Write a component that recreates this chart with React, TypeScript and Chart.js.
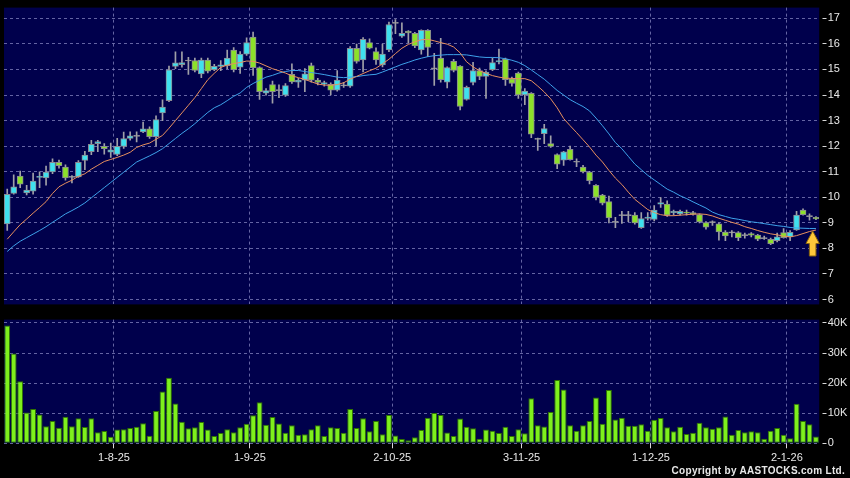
import React, { useEffect, useRef } from "react";
import { Chart, registerables } from "chart.js";

Chart.register(...registerables);
Chart.defaults.font.family = "'Liberation Sans', Arial, sans-serif";

// ---------- DATA ----------
const dates = [
  "9-7-25","10-7-25","11-7-25","14-7-25","15-7-25","16-7-25","17-7-25","18-7-25","21-7-25","22-7-25","23-7-25","24-7-25","25-7-25","28-7-25","29-7-25","30-7-25","31-7-25",
  "1-8-25","4-8-25","5-8-25","6-8-25","7-8-25","8-8-25","11-8-25","12-8-25","13-8-25","14-8-25","15-8-25","18-8-25","19-8-25","20-8-25","21-8-25","22-8-25","25-8-25","26-8-25","27-8-25","28-8-25","29-8-25",
  "1-9-25","2-9-25","3-9-25","4-9-25","5-9-25","8-9-25","9-9-25","10-9-25","11-9-25","12-9-25","15-9-25","16-9-25","17-9-25","18-9-25","19-9-25","22-9-25","23-9-25","24-9-25","25-9-25","26-9-25","29-9-25","30-9-25",
  "2-10-25","3-10-25","6-10-25","8-10-25","9-10-25","10-10-25","13-10-25","14-10-25","15-10-25","16-10-25","17-10-25","20-10-25","21-10-25","22-10-25","23-10-25","24-10-25","27-10-25","28-10-25","30-10-25","31-10-25",
  "3-11-25","4-11-25","5-11-25","6-11-25","7-11-25","10-11-25","11-11-25","12-11-25","13-11-25","14-11-25","17-11-25","18-11-25","19-11-25","20-11-25","21-11-25","24-11-25","25-11-25","26-11-25","27-11-25","28-11-25",
  "1-12-25","2-12-25","3-12-25","4-12-25","5-12-25","8-12-25","9-12-25","10-12-25","11-12-25","12-12-25","15-12-25","16-12-25","17-12-25","18-12-25","19-12-25","22-12-25","23-12-25","24-12-25","29-12-25","30-12-25","31-12-25",
  "2-1-26","5-1-26","6-1-26","7-1-26","8-1-26",
];

const monthTicks = ["1-8-25", "1-9-25", "2-10-25", "3-11-25", "1-12-25", "2-1-26"];

const openP = [
  8.96,10.15,10.83,10.17,10.24,10.78,10.76,10.99,11.37,11.18,10.80,10.80,11.44,11.78,12.10,11.99,11.76,11.68,11.99,12.30,
  12.40,12.56,12.68,12.37,13.30,13.78,15.12,15.19,15.35,15.35,14.83,15.37,14.99,15.12,15.15,15.76,15.09,15.60,16.27,15.07,
  14.07,14.41,14.20,13.99,14.81,14.50,14.58,15.15,14.58,14.42,14.42,14.19,14.38,14.35,15.83,15.37,16.05,15.70,15.18,15.76,
  16.82,16.30,16.50,16.41,15.76,16.53,15.03,15.45,14.50,15.32,15.13,13.83,14.49,14.96,14.73,14.99,15.30,15.41,14.63,14.86,
  14.00,14.07,12.30,12.49,12.10,11.67,11.45,11.88,11.40,11.18,10.99,10.47,10.09,9.83,9.04,9.29,9.30,9.30,8.81,9.17,
  9.13,9.73,9.73,9.40,9.35,9.42,9.40,9.32,9.01,9.02,8.96,8.64,8.62,8.62,8.52,8.58,8.52,8.40,8.36,8.30,
  8.62,8.45,8.72,9.50,9.26,9.22,
];
const highP = [
  10.32,10.88,11.03,10.47,10.95,11.00,11.22,11.50,11.46,11.27,10.85,11.44,11.80,12.23,12.23,12.10,12.12,12.31,12.55,12.56,
  12.56,12.94,12.76,13.19,13.81,15.13,15.69,15.69,15.47,15.45,15.45,15.45,15.20,15.35,15.76,15.86,15.70,16.24,16.46,15.10,
  14.25,14.55,14.40,14.45,15.22,14.65,15.03,15.25,14.65,14.55,14.48,14.96,14.50,15.90,15.99,16.25,16.20,15.85,15.99,16.85,
  16.95,16.82,16.52,16.45,16.55,16.56,15.63,16.22,15.10,15.40,15.15,14.35,15.28,15.05,14.95,15.45,15.80,15.45,14.70,14.90,
  14.25,14.10,12.32,12.85,12.40,11.70,11.80,12.00,11.50,11.25,11.02,10.50,10.12,10.05,9.22,9.45,9.45,9.40,9.40,9.40,
  9.68,9.99,9.86,9.50,9.50,9.50,9.45,9.35,9.05,9.08,9.00,8.70,8.70,8.66,8.60,8.62,8.55,8.48,8.40,8.60,
  8.78,8.70,9.45,9.55,9.35,9.25,
];
const lowP = [
  8.70,10.12,10.38,10.09,10.12,10.38,10.47,10.92,11.14,10.67,10.56,10.78,11.08,11.67,11.78,11.69,11.56,11.63,11.91,12.23,
  12.17,12.53,12.30,12.01,13.00,13.74,15.03,15.09,14.81,14.90,14.68,14.86,14.95,14.95,15.03,14.90,14.85,15.55,14.77,13.83,
  13.99,13.68,13.90,13.95,14.45,14.30,14.13,14.50,14.40,14.35,14.00,14.15,14.30,14.30,15.25,14.90,15.80,15.20,15.10,15.70,
  16.40,16.25,16.05,15.85,15.60,15.50,14.38,14.50,14.28,14.90,13.42,13.80,14.40,14.60,13.87,14.95,15.22,14.38,14.35,13.87,
  13.62,12.33,11.83,12.10,11.95,11.12,11.25,11.45,11.20,10.95,10.52,9.90,9.70,9.00,8.81,8.98,9.05,8.95,8.78,9.10,
  9.08,9.60,9.25,9.30,9.30,9.30,9.30,9.00,8.75,8.90,8.32,8.30,8.45,8.30,8.40,8.45,8.30,8.35,8.15,8.25,
  8.40,8.30,8.70,9.30,9.10,9.12,
];
const closeP = [
  10.12,10.41,10.51,10.28,10.63,10.82,10.99,11.37,11.24,10.76,10.80,11.37,11.65,12.07,12.18,11.90,11.86,11.99,12.30,12.40,
  12.40,12.68,12.37,13.04,13.53,14.99,15.26,15.27,15.35,14.96,15.37,14.93,15.12,15.18,15.45,14.99,15.60,16.05,15.07,14.13,
  14.17,14.13,14.19,14.37,14.51,14.58,14.83,14.58,14.49,14.49,14.19,14.58,14.38,15.83,15.31,16.18,15.83,15.37,15.60,16.76,
  16.82,16.41,16.43,15.92,16.53,15.86,15.05,14.60,15.07,14.96,13.55,14.30,14.96,14.73,14.90,15.27,15.35,14.60,14.45,14.00,
  14.15,12.47,12.27,12.69,11.99,11.30,11.78,11.47,11.38,10.99,10.65,9.99,9.77,9.19,9.04,9.31,9.31,9.00,9.17,9.23,
  9.50,9.79,9.30,9.45,9.45,9.38,9.33,9.04,8.83,9.04,8.65,8.49,8.64,8.42,8.52,8.52,8.36,8.40,8.19,8.45,
  8.42,8.63,9.30,9.32,9.26,9.15,
];

const ma10 = [
  8.36,8.65,8.93,9.15,9.38,9.60,9.83,10.15,10.41,10.55,10.67,10.82,10.92,11.10,11.25,11.40,11.48,11.56,11.65,11.76,
  11.95,12.05,12.12,12.27,12.42,12.70,13.00,13.30,13.60,13.90,14.25,14.60,14.85,15.08,15.17,15.23,15.27,15.33,15.32,15.25,
  15.14,15.03,14.95,14.86,14.75,14.68,14.61,14.52,14.43,14.39,14.38,14.41,14.48,14.62,14.73,14.84,14.95,15.05,15.22,15.40,
  15.62,15.83,15.98,16.08,16.16,16.18,16.12,16.05,15.99,15.88,15.65,15.30,15.10,14.95,14.85,14.76,14.70,14.66,14.65,14.64,
  14.64,14.56,14.35,14.12,13.85,13.50,13.08,12.80,12.53,12.25,11.97,11.65,11.38,11.05,10.75,10.50,10.20,9.92,9.72,9.52,
  9.40,9.32,9.28,9.28,9.30,9.32,9.34,9.35,9.33,9.27,9.18,9.10,9.02,8.95,8.85,8.78,8.70,8.63,8.57,8.53,
  8.48,8.45,8.50,8.58,8.66,8.72,
];
const ma20 = [
  7.88,8.10,8.28,8.42,8.56,8.70,8.85,9.02,9.18,9.35,9.48,9.62,9.78,9.98,10.18,10.38,10.58,10.78,10.98,11.18,
  11.38,11.50,11.62,11.75,11.90,12.10,12.30,12.50,12.68,12.88,13.10,13.32,13.50,13.62,13.78,13.95,14.08,14.30,14.45,14.58,
  14.70,14.77,14.86,14.92,14.96,14.96,14.92,14.88,14.84,14.80,14.75,14.70,14.68,14.70,14.72,14.76,14.79,14.81,14.90,15.00,
  15.10,15.20,15.28,15.37,15.44,15.50,15.54,15.56,15.58,15.58,15.58,15.57,15.53,15.49,15.47,15.47,15.46,15.42,15.36,15.28,
  15.15,14.98,14.80,14.62,14.40,14.18,14.00,13.82,13.68,13.55,13.38,13.10,12.80,12.48,12.14,11.90,11.60,11.30,11.08,10.86,
  10.68,10.50,10.32,10.20,10.06,9.95,9.82,9.70,9.58,9.42,9.32,9.25,9.18,9.14,9.09,9.04,9.01,8.97,8.93,8.89,
  8.86,8.82,8.80,8.79,8.78,8.78,
];

// volume in thousands of shares
const volumeK = [
  39.1,29.8,20.6,10.2,11.4,9.6,5.7,7.4,5.2,8.8,5.7,8.3,5.4,8.3,3.7,4.1,2.2,4.6,4.7,5.1,
  5.5,6.7,2.5,10.7,17.2,21.8,13.2,7.2,5.0,5.3,7.1,4.6,2.4,3.4,4.7,3.7,5.3,6.5,9.3,13.6,
  6.2,8.7,6.6,3.5,6.0,2.8,3.0,4.7,6.0,2.4,5.3,5.1,3.5,11.4,5.1,8.3,4.0,7.4,3.0,9.4,
  2.6,1.4,1.0,2.0,4.4,8.5,10.1,9.4,3.6,2.4,8.2,5.5,5.0,1.5,4.6,4.2,3.4,5.5,2.4,4.7,
  3.3,15.0,6.0,5.6,10.4,21.0,17.9,6.0,4.2,6.0,7.4,15.2,6.5,17.7,7.9,8.5,5.8,5.8,6.3,4.2,
  7.8,8.4,5.3,4.0,5.5,3.1,3.5,6.8,5.3,4.8,5.3,8.9,2.8,4.4,3.7,4.0,3.7,1.5,4.2,5.1,
  2.8,1.7,13.1,7.4,6.3,2.3,
];

const priceTicks = [6, 7, 8, 9, 10, 11, 12, 13, 14, 15, 16, 17];
const volumeTicks = [0, 10, 20, 30, 40];

// ---------- STYLE ----------
const NAVY = "#00004c";
const GRID = "rgba(125,125,185,0.8)";
const LABEL = "#e8e8e8";
const UP = "#3fe0ee";
const DOWN = "#8ce12a";
const DOJI = "#a8a8a8";
const EDGE = "#8a8a92";
const Y_AXIS_W = 30.8;
const FONT = { family: "'Liberation Sans', Arial, sans-serif", size: 11 };

const isMonth = (i: any) => typeof i === "number" && monthTicks.includes(dates[i]);

const bodies = openP.map((o, i) => {
  const c = closeP[i];
  const lo = Math.min(o, c);
  const hi = Math.max(o, c);
  if (hi - lo < 0.04) {
    const m = (hi + lo) / 2;
    return [m - 0.02, m + 0.02];
  }
  return [lo, hi];
});
const bodyColors = openP.map((o, i) => {
  const c = closeP[i];
  if (Math.abs(c - o) < 0.035) return DOJI;
  return c > o ? UP : DOWN;
});
const wicks = lowP.map((l, i) => [l, highP[i]]);

const bgPlugin = {
  id: "navyBg",
  beforeDatasetsDraw(chart: any) {},
  beforeDraw(chart: any) {
    const { ctx, chartArea: a } = chart;
    ctx.save();
    ctx.fillStyle = "#000";
    ctx.fillRect(0, 0, chart.width, chart.height);
    ctx.fillStyle = NAVY;
    ctx.fillRect(a.left, a.top, a.right - a.left, a.bottom - a.top);
    ctx.restore();
  },
};

const arrowPlugin = {
  id: "lastArrow",
  afterDatasetsDraw(chart: any) {
    const { ctx } = chart;
    const xs = chart.scales.x;
    const ys = chart.scales.y;
    const last = dates.length - 1;
    const cx = xs.getPixelForValue(last) - 3.3;
    const tip = ys.getPixelForValue(ma10[last]) + 1;
    const headH = 12.5, headW = 6.7, shaftW = 3.3, total = 25;
    ctx.save();
    ctx.beginPath();
    ctx.moveTo(cx, tip);
    ctx.lineTo(cx + headW, tip + headH);
    ctx.lineTo(cx + shaftW, tip + headH);
    ctx.lineTo(cx + shaftW, tip + total);
    ctx.lineTo(cx - shaftW, tip + total);
    ctx.lineTo(cx - shaftW, tip + headH);
    ctx.lineTo(cx - headW, tip + headH);
    ctx.closePath();
    ctx.fillStyle = "#ffc83a";
    ctx.fill();
    ctx.lineWidth = 1;
    ctx.strokeStyle = "#8a6410";
    ctx.stroke();
    ctx.restore();
  },
};

function xGrid(withTicks: boolean) {
  return {
    offset: true,
    color: (c: any) => (isMonth(c.index) ? GRID : "transparent"),
    lineWidth: 1,
    drawTicks: withTicks,
    tickLength: 5,
    tickColor: (c: any) => (isMonth(c.index) ? "#d8d8d8" : "transparent"),
    tickBorderDash: [],
  };
}

function yAxis(ticksArr: number[], min: number, max: number, fmt: (v: number) => string) {
  return {
    position: "right",
    min,
    max,
    afterBuildTicks: (s: any) => {
      s.ticks = ticksArr.map((v) => ({ value: v }));
    },
    afterFit: (s: any) => {
      s.width = Y_AXIS_W;
    },
    grid: {
      color: GRID,
      lineWidth: 1,
      drawTicks: true,
      tickLength: 7.5,
      tickColor: "#d8d8d8",
      tickBorderDash: [0, 3.5, 4, 60],
    },
    border: { display: false, dash: [3, 3] },
    ticks: {
      color: LABEL,
      font: FONT,
      padding: 1,
      callback: (v: any) => fmt(Number(v)),
    },
  };
}

export default function App() {
  const priceRef = useRef<HTMLCanvasElement>(null);
  const volRef = useRef<HTMLCanvasElement>(null);

  useEffect(() => {
    const price = new Chart(priceRef.current as HTMLCanvasElement, {
      type: "bar",
      data: {
        labels: dates,
        datasets: [
          {
            type: "line",
            label: "MA10",
            data: ma10,
            borderColor: "#e8905e",
            borderWidth: 1,
            pointRadius: 0,
            tension: 0,
            order: 0,
          } as any,
          {
            type: "line",
            label: "MA20",
            data: ma20,
            borderColor: "#3ea2ea",
            borderWidth: 1,
            pointRadius: 0,
            tension: 0,
            order: 0,
          } as any,
          {
            type: "bar",
            label: "body",
            data: bodies,
            backgroundColor: bodyColors,
            borderColor: EDGE,
            borderWidth: 1,
            borderSkipped: false,
            barThickness: 6,
            grouped: false,
            order: 1,
          } as any,
          {
            type: "bar",
            label: "wick",
            data: wicks,
            backgroundColor: "#a0a0a8",
            borderWidth: 0,
            barThickness: 1,
            grouped: false,
            order: 2,
          } as any,
        ],
      },
      options: {
        animation: false,
        responsive: false,
        maintainAspectRatio: false,
        layout: { padding: { left: 4, top: 6, right: 0, bottom: 4 } },
        plugins: { legend: { display: false }, tooltip: { enabled: false } },
        scales: {
          x: {
            type: "category",
            offset: true,
            grid: xGrid(false),
            border: { display: false, dash: [3, 3] },
            ticks: { display: false, autoSkip: false },
            afterFit: (s: any) => {
              s.height = 0;
            },
          },
          y: yAxis(priceTicks, 5.81, 17.42, (v) => String(v)),
        } as any,
      },
      plugins: [bgPlugin, arrowPlugin],
    } as any);

    const volume = new Chart(volRef.current as HTMLCanvasElement, {
      type: "bar",
      data: {
        labels: dates,
        datasets: [
          {
            label: "Volume",
            data: volumeK,
            backgroundColor: "#7ef01c",
            borderColor: "#2f7400",
            borderWidth: 1,
            borderSkipped: false,
            barPercentage: 0.9,
            categoryPercentage: 1,
          },
        ],
      },
      options: {
        animation: false,
        responsive: false,
        maintainAspectRatio: false,
        layout: { padding: { left: 4, top: 7, right: 0, bottom: 0 } },
        plugins: { legend: { display: false }, tooltip: { enabled: false } },
        scales: {
          x: {
            type: "category",
            offset: true,
            grid: xGrid(true),
            border: { display: false, dash: [3, 3] },
            ticks: {
              autoSkip: false,
              maxRotation: 0,
              minRotation: 0,
              color: LABEL,
              font: FONT,
              padding: 3,
              labelOffset: -3.235,
              callback: (_v: any, i: number) => (isMonth(i) ? dates[i] : ""),
            },
            afterFit: (s: any) => {
              s.height = 34.7;
            },
          },
          y: yAxis(volumeTicks, 0, 41.1, (v) => (v === 0 ? "0" : v + "K")),
        } as any,
      },
      plugins: [bgPlugin],
    } as any);

    return () => {
      price.destroy();
      volume.destroy();
    };
  }, []);

  return (
    <div
      style={{
        position: "fixed",
        left: 0,
        top: 0,
        width: 850,
        height: 478,
        background: "#000",
        overflow: "hidden",
      }}
    >
      <canvas
        ref={priceRef}
        width={850}
        height={312}
        style={{ position: "absolute", left: 0, top: 0, width: 850, height: 312 }}
      />
      <canvas
        ref={volRef}
        width={850}
        height={166}
        style={{ position: "absolute", left: 0, top: 312, width: 850, height: 166 }}
      />
      <div
        style={{
          position: "absolute",
          right: 5,
          top: 465,
          color: LABEL,
          font: "bold 10px 'Liberation Sans', Arial, sans-serif",
          letterSpacing: "0.3px",
          whiteSpace: "nowrap",
        }}
      >
        Copyright by AASTOCKS.com Ltd.
      </div>
    </div>
  );
}
